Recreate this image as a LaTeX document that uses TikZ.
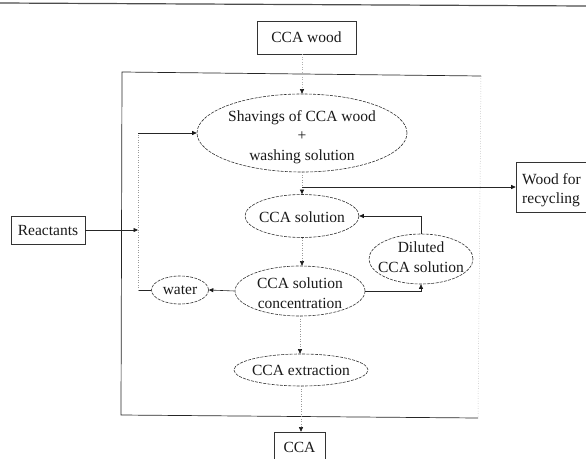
\documentclass[tikz,border=0pt]{standalone}
\usepackage{fontspec}
\setmainfont{Liberation Serif}
\usetikzlibrary{shapes.geometric,arrows.meta}
\begin{document}
\begin{tikzpicture}[x=1pt,y=-1pt,
  ell/.style={ellipse, draw=black!80, line width=0.6pt, dash pattern=on 3pt off 1.2pt, inner sep=0pt},
  boxn/.style={rectangle, draw=black!80, line width=0.6pt, inner sep=0pt},
  txt/.style={align=center, font=\fontsize{15.5}{19.5}\selectfont, text=black!90, inner sep=0pt},
  flow/.style={draw=black!40, line width=0.5pt, dotted},
  link/.style={draw=black!85, line width=0.6pt},
  frame/.style={draw=black!85, line width=0.7pt},
  tip/.style={-{Triangle[length=4.5pt,width=4pt,color=black!90]}},
]
\useasboundingbox (0,0) rectangle (586,458);
% scan border at top
\draw[black!70, line width=1.2pt] (0,3) -- (586,6);

% frame
\coordinate (fTL) at (122,72);
\coordinate (fTR) at (481,76);
\coordinate (fBR) at (478,418);
\coordinate (fBL) at (121,415);
\draw[frame] (fTR) -- (fTL) -- (fBL) -- (fBR);
\draw[flow] (fTR) -- (fBR);

% boxes
\node[boxn, minimum width=99pt, minimum height=33pt] (cw) at (306.5,37.5) {};
\node[txt] (cwT) at (cw) {CCA wood};
\node[boxn, minimum width=74pt, minimum height=28pt] (react) at (48,230) {};
\node[txt] (reactT) at (react) {Reactants};
\node[boxn, minimum width=74pt, minimum height=50pt] (wood) at (553,187) {};
\node[txt, align=left, anchor=west] (woodT) at (522,190) {Wood for\\recycling};
\node[boxn, minimum width=51pt, minimum height=30pt] (cca) at (299.5,447) {};
\node[txt] (ccaT) at (cca) {CCA};

% ellipses
\node[ell, minimum width=210pt, minimum height=78pt] (shav) at (302,133) {};
\node[txt] (shavT) at (302,137) {Shavings of CCA wood\\+\\washing solution};
\node[ell, minimum width=114pt, minimum height=43pt] (sol) at (302,216) {};
\node[txt] (solT) at (302,217) {CCA solution};
\node[ell, minimum width=104pt, minimum height=50pt] (dil) at (421,259) {};
\node[txt] (dilT) at (421,257) {Diluted\\CCA solution};
\node[ell, minimum width=130pt, minimum height=50pt] (conc) at (300,291) {};
\node[txt] (concT) at (300,293) {CCA solution\\concentration};
\node[ell, minimum width=57pt, minimum height=28pt] (water) at (180,290) {};
\node[txt] (waterT) at (water) {water};
\node[ell, minimum width=134pt, minimum height=32pt] (extr) at (301,370) {};
\node[txt] (extrT) at (extr) {CCA extraction};

% connectors
\coordinate (br) at (302,187);
\coordinate (lpT) at (138,133);
\coordinate (lpB) at (lpT |- water.west);
\draw[flow, draw=black!30, tip] (cw.south -| shav.north) -- (shav.north);
\draw[flow, tip] (shav.south) -- (shav.south |- sol.north);
\draw[link, tip] (br) -- (wood.west |- br);
\draw[link, tip] (react.east) -- (react.east -| lpT);
\draw[link] (water.west) -- (lpB);
\draw[flow] (lpB) -- (lpT);
\draw[link, tip] (lpT) -- (shav.west);
\draw[link, tip] (dil.north) |- (sol.east);
\draw[link, tip] (conc.east) -| (dil.south);
\draw[link, tip] (conc.west) -- (water.east);
\draw[flow, tip] (sol.south) -- (sol.south |- conc.north);
\draw[flow, tip] (conc.south) -- (conc.south |- extr.north);
\draw[flow, tip] (extr.south) -- (extr.south |- cca.north);
\end{tikzpicture}
\end{document}
